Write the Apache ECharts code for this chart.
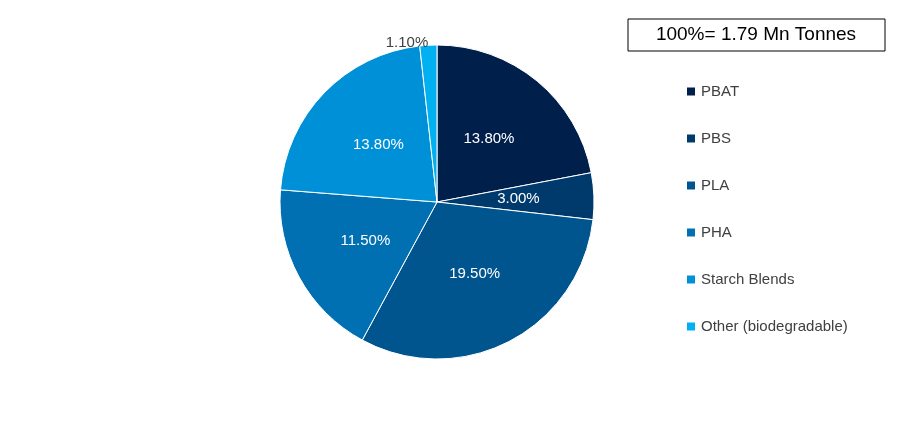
<!DOCTYPE html>
<html><head><meta charset="utf-8">
<script src="https://cdn.jsdelivr.net/npm/echarts@6/dist/echarts.min.js"></script>
<style>html,body{margin:0;background:#fff}#c{width:900px;height:424px}</style>
</head><body><div id="c"></div>
<script>
const categories = ['PBAT','PBS','PLA','PHA','Starch Blends','Other (biodegradable)'];
const values = [13.8, 3.0, 19.5, 11.5, 13.8, 1.1];
const colors = ['#001f4b','#003a6c','#00558f','#0070b3','#0090d8','#00b0f0'];
const title = '100%= 1.79 Mn Tonnes';
const font = 'Liberation Sans';
const chart = echarts.init(document.getElementById('c'));
chart.setOption({
  animation:false,
  graphic:[{type:'rect',shape:{x:628,y:19,width:257,height:32},style:{fill:'#fff',stroke:'#000',lineWidth:1}},
    {type:'text',x:756,y:35,style:{text:title,fontFamily:font,fontSize:19,fill:'#000',align:'center',verticalAlign:'middle'}}],
  legend:{orient:'vertical',left:680,top:79,itemWidth:10,itemHeight:10,itemGap:32,icon:'rect',
    textStyle:{fontFamily:font,fontSize:15,color:'#404040'},data:categories},
  series:[{type:'pie',center:[437,202],radius:157,startAngle:90,clockwise:true,
    itemStyle:{borderColor:'#fff',borderWidth:1},
    label:{position:'inner',formatter:p=>p.value.toFixed(2)+'%',color:'#fff',fontFamily:font,fontSize:15},
    labelLine:{show:false},
    data:categories.map((n,i)=>{
      const d={name:n,value:values[i],itemStyle:{color:colors[i]}};
      if(i===5){d.label={position:'outside',color:'#404040',distanceToLabelLine:0};d.labelLine={show:false,length:2,length2:0};}
      return d;})}]
});
</script></body></html>
